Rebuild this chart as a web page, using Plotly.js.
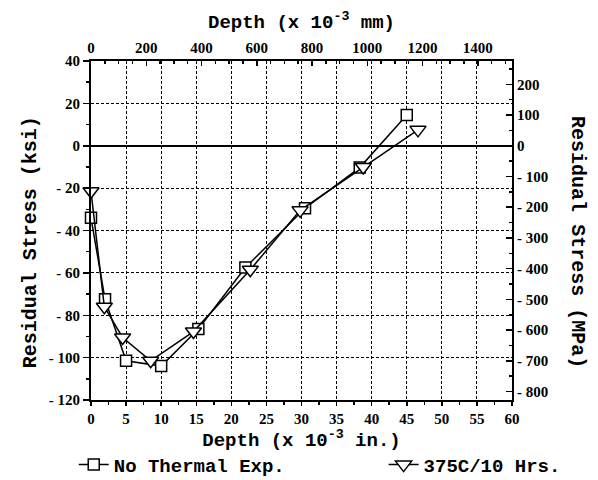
<!DOCTYPE html>
<html>
<head>
<meta charset="utf-8">
<script src="https://cdn.plot.ly/plotly-3.0.1.min.js"></script>
<style>html,body{margin:0;padding:0;background:#fff;}#chart{width:598px;height:480px;}</style>
</head>
<body>
<div id="chart"></div>
<script>
// Depth in 10^-3 in., residual stress in ksi
const depthNoTherm = [0, 2, 5, 10, 15.3, 22, 30.5, 38.3, 45];
const stressNoTherm = [-34, -72.5, -101.5, -104, -86.5, -57.5, -29.5, -10.3, 14.5];
const depthAged = [0, 1.9, 4.5, 8.5, 14.6, 22.7, 29.8, 38.8, 46.6];
const stressAged = [-21.5, -76, -90.5, -101.5, -87.7, -58.5, -30.5, -10, 7.5];
const seriesNames = ["No Thermal Exp.", "375C/10 Hrs."];

const bottomTickVals = [0, 5, 10, 15, 20, 25, 30, 35, 40, 45, 50, 55, 60];
const leftTickVals = [-120, -100, -80, -60, -40, -20, 0, 20, 40];
const leftTickText = ["- 120", "- 100", "- 80", "- 60", "- 40", "- 20", "0", "20", "40"];
const rightTickVals = [-800, -700, -600, -500, -400, -300, -200, -100, 0, 100, 200];
const rightTickText = ["- 800", "- 700", "- 600", "- 500", "- 400", "- 300", "- 200", "- 100", "0", "100", "200"];
const topTickVals = [0, 200, 400, 600, 800, 1000, 1200, 1400];

const IN_TO_MM = 25.4, KSI_TO_MPA = 6.895;

const tickFont = {family: "Liberation Serif", size: 15, color: "#000", weight: "bold"};
const titleFont = {family: "Liberation Mono", size: 19, color: "#000", weight: "bold"};
const yTitleFont = {family: "Liberation Mono", size: 20, color: "#000", weight: "bold"};
const legendFont = {family: "Liberation Mono", size: 19, color: "#000", weight: "bold"};

const traces = [
  {
    x: depthNoTherm, y: stressNoTherm, name: seriesNames[0], type: "scatter", mode: "lines+markers",
    line: {color: "#000", width: 1.5}, cliponaxis: false,
    marker: {symbol: "square", size: 11, color: "#fff", line: {color: "#000", width: 1.5}},
    xaxis: "x", yaxis: "y", legend: "legend"
  },
  {
    x: depthAged, y: stressAged, name: seriesNames[1], type: "scatter", mode: "lines+markers",
    line: {color: "#000", width: 1.5}, cliponaxis: false,
    marker: {symbol: "triangle-down", size: 14, color: "#fff", line: {color: "#000", width: 1.5}},
    xaxis: "x", yaxis: "y", legend: "legend2"
  },
  {
    x: depthNoTherm.map(v => v * IN_TO_MM), y: stressNoTherm.map(v => v * KSI_TO_MPA),
    type: "scatter", mode: "markers", marker: {opacity: 0}, showlegend: false, hoverinfo: "skip",
    xaxis: "x2", yaxis: "y2"
  }
];

const layout = {
  width: 598, height: 480,
  margin: {l: 91, r: 86, t: 61, b: 80, autoexpand: false},
  paper_bgcolor: "#fff", plot_bgcolor: "#fff",
  showlegend: true,
  legend: {
    orientation: "h", x: -0.041, xanchor: "left", y: -0.135, yanchor: "top",
    font: legendFont, bgcolor: "rgba(0,0,0,0)"
  },
  legend2: {
    orientation: "h", x: 0.695, xanchor: "left", y: -0.135, yanchor: "top",
    font: legendFont, bgcolor: "rgba(0,0,0,0)"
  },
  xaxis: {
    range: [0, 60], tickvals: bottomTickVals,
    ticks: "outside", ticklen: 4, tickwidth: 1.5, tickcolor: "#000",
    minor: {dtick: 2.5, ticks: "outside", ticklen: 3, tickcolor: "#000", tickwidth: 1.5, showgrid: false},
    showline: true, linecolor: "#000", linewidth: 2,
    showgrid: true, gridcolor: "#000", griddash: "3px,2px", gridwidth: 1,
    zeroline: false, tickfont: tickFont,
    title: {text: "Depth (x 10<sup>-3</sup> in.)", font: titleFont, standoff: 4}
  },
  xaxis2: {
    overlaying: "x", side: "top", anchor: "y",
    range: [0, 60 * IN_TO_MM], tickvals: topTickVals,
    ticks: "inside", ticklen: 5, tickwidth: 1.5, tickcolor: "#000",
    minor: {dtick: 50, ticks: "inside", ticklen: 3, tickcolor: "#000", tickwidth: 1.5, showgrid: false},
    showline: true, linecolor: "#000", linewidth: 2, showgrid: false, zeroline: false,
    tickfont: tickFont,
    title: {text: "Depth (x 10<sup>-3</sup> mm)", font: titleFont, standoff: 6}
  },
  yaxis: {
    range: [-120, 40], tickvals: leftTickVals, ticktext: leftTickText,
    ticks: "outside", ticklen: 6, tickwidth: 1.5, tickcolor: "#000",
    minor: {dtick: 10, ticks: "outside", ticklen: 3, tickcolor: "#000", tickwidth: 1.5, showgrid: false},
    showline: true, linecolor: "#000", linewidth: 2,
    showgrid: true, gridcolor: "#000", griddash: "3px,2px", gridwidth: 1,
    zeroline: true, zerolinecolor: "#000", zerolinewidth: 1.5,
    tickfont: tickFont
  },
  yaxis2: {
    overlaying: "y", side: "right", anchor: "x",
    range: [-120 * KSI_TO_MPA, 40 * KSI_TO_MPA], tickvals: rightTickVals, ticktext: rightTickText,
    ticks: "inside", ticklen: 6, tickwidth: 1.5, tickcolor: "#000",
    minor: {dtick: 50, ticks: "inside", ticklen: 3, tickcolor: "#000", tickwidth: 1.5, showgrid: false},
    showline: true, linecolor: "#000", linewidth: 2, showgrid: false, zeroline: false,
    tickfont: tickFont
  },
  annotations: [
    {text: "Residual Stress (ksi)", xref: "paper", yref: "paper", x: -0.145, y: 0.465,
     xanchor: "center", yanchor: "middle", textangle: -90, showarrow: false, font: yTitleFont},
    {text: "Residual Stress (MPa)", xref: "paper", yref: "paper", x: 1.155, y: 0.465,
     xanchor: "center", yanchor: "middle", textangle: 90, showarrow: false, font: yTitleFont}
  ]
};

Plotly.newPlot("chart", traces, layout, {displayModeBar: false, staticPlot: true});
</script>
</body>
</html>
